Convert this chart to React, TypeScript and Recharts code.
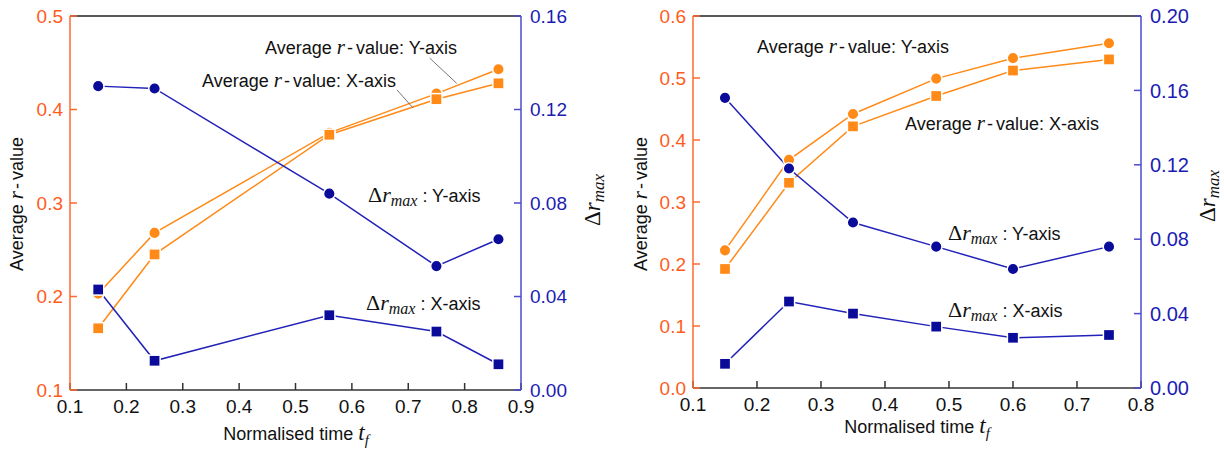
import React from "react";
import { LineChart, Line, XAxis, YAxis, ReferenceLine } from "recharts";

// left panel
const tLeft = [0.15, 0.25, 0.56, 0.75, 0.86];
const rYLeft = [0.203, 0.268, 0.375, 0.417, 0.443];
const rXLeft = [0.166, 0.245, 0.373, 0.411, 0.428];
const dYLeft = [0.13, 0.129, 0.084, 0.053, 0.0645];
const dXLeft = [0.043, 0.0125, 0.032, 0.025, 0.011];

// right panel
const tRight = [0.15, 0.25, 0.35, 0.48, 0.6, 0.75];
const rYRight = [0.222, 0.368, 0.442, 0.499, 0.532, 0.556];
const rXRight = [0.192, 0.331, 0.422, 0.471, 0.512, 0.53];
const dYRight = [0.156, 0.118, 0.089, 0.076, 0.064, 0.076];
const dXRight = [0.013, 0.0465, 0.04, 0.033, 0.027, 0.0285];

const xTicksLeft = [0.1, 0.2, 0.3, 0.4, 0.5, 0.6, 0.7, 0.8, 0.9];
const rTicksLeft = [0.1, 0.2, 0.3, 0.4, 0.5];
const dTicksLeft = [0, 0.04, 0.08, 0.12, 0.16];
const xTicksRight = [0.1, 0.2, 0.3, 0.4, 0.5, 0.6, 0.7, 0.8];
const rTicksRight = [0, 0.1, 0.2, 0.3, 0.4, 0.5, 0.6];
const dTicksRight = [0, 0.04, 0.08, 0.12, 0.16, 0.2];

// leader lines from the "Average r-value" notes to their curves (left panel)
const leaders = [
  [{ x: 0.738, y: 0.455 }, { x: 0.786, y: 0.428 }],
  [{ x: 0.68, y: 0.421 }, { x: 0.708, y: 0.402 }],
];

const ORANGE = "#FF8A17";
const ORANGE_AXIS = "#FF6A2E";
const ORANGE_TICK = "#FF5C1C";
const NAVY = "#0B0B9A";
const BLUE_LINE = "#2222B8";
const BLUE_AXIS = "#4B4BCF";
const BLUE_TICK = "#1C1CB4";
const FONT = "'Liberation Sans', Arial, sans-serif";
const MATH = "'Liberation Serif', 'Times New Roman', serif";

const circleDot = (color: string) => (p: any) => {
  if (p.cx == null || p.cy == null) return <g key={p.key} />;
  return <circle key={p.key} cx={p.cx} cy={p.cy} r={5.8} fill={color} stroke="#fff" strokeWidth={1.5} />;
};

const squareDot = (color: string) => (p: any) => {
  if (p.cx == null || p.cy == null) return <g key={p.key} />;
  return (
    <rect key={p.key} x={p.cx - 5.6} y={p.cy - 5.6} width={11.2} height={11.2} fill={color} stroke="#fff" strokeWidth={1.5} />
  );
};

function RNote({ x, y, axis }: { x: number; y: number; axis: string }) {
  return (
    <text x={x} y={y} fontFamily={FONT} fontSize={18} fill="#111">
      Average{" "}
      <tspan fontFamily={MATH} fontStyle="italic" fontSize={21}>r</tspan>
      <tspan dx={2}>-</tspan>
      <tspan dx={3}>value: {axis}</tspan>
    </text>
  );
}

function DNote({ x, y, axis }: { x: number; y: number; axis: string }) {
  return (
    <text x={x} y={y} fontFamily={FONT} fontSize={18} fill="#111">
      <tspan fontFamily={MATH} fontSize={22}>Δ</tspan>
      <tspan fontFamily={MATH} fontStyle="italic" fontSize={22}>r</tspan>
      <tspan fontFamily={MATH} fontStyle="italic" fontSize={16} dy={4}>max</tspan>
      <tspan dy={-4}> : {axis}</tspan>
    </text>
  );
}

function Titles({ yx, xc, xb, dx, dy }: { yx: number; xc: number; xb: number; dx: number; dy: number }) {
  return (
    <g>
      <text transform={`translate(${yx},204) rotate(-90)`} textAnchor="middle" fontFamily={FONT} fontSize={18} fill="#111">
        Average{" "}
        <tspan fontFamily={MATH} fontStyle="italic" fontSize={21}>r</tspan>
        <tspan dx={2}>-</tspan>
        <tspan dx={3}>value</tspan>
      </text>
      <text x={xc} y={xb} textAnchor="middle" fontFamily={FONT} fontSize={18} fill="#111">
        Normalised time{" "}
        <tspan fontFamily={MATH} fontStyle="italic" fontSize={23}>t</tspan>
        <tspan fontFamily={MATH} fontStyle="italic" fontSize={15} dy={5}>f</tspan>
      </text>
      <text transform={`translate(${dx},${dy}) rotate(-90)`} textAnchor="middle" fill="#111">
        <tspan fontFamily={MATH} fontSize={23}>Δ</tspan>
        <tspan fontFamily={MATH} fontStyle="italic" fontSize={23}>r</tspan>
        <tspan fontFamily={MATH} fontStyle="italic" fontSize={17} dy={4}>max</tspan>
      </text>
    </g>
  );
}

type PanelProps = {
  t: number[];
  rY: number[];
  rX: number[];
  dY: number[];
  dX: number[];
  xTicks: number[];
  rTicks: number[];
  dTicks: number[];
  leftW: number;
  rightW: number;
  bottomH: number;
  dFmt: (v: number) => string;
  rightTickSize: number;
  children?: React.ReactNode;
};

function Panel(p: PanelProps) {
  const data = p.t.map((t, i) => ({ t, rY: p.rY[i], rX: p.rX[i], dY: p.dY[i], dX: p.dX[i] }));
  const xMin = p.xTicks[0];
  const xMax = p.xTicks[p.xTicks.length - 1];
  const rMin = p.rTicks[0];
  const rMax = p.rTicks[p.rTicks.length - 1];
  const dMax = p.dTicks[p.dTicks.length - 1];
  return (
    <LineChart width={612} height={450} data={data} margin={{ top: 16, right: 0, left: 0, bottom: 0 }}>
      <XAxis
        dataKey="t"
        type="number"
        domain={[xMin, xMax]}
        ticks={p.xTicks}
        tickFormatter={(v: number) => v.toFixed(1)}
        height={p.bottomH}
        tickSize={-7}
        tickMargin={17}
        axisLine={{ stroke: "#333", strokeWidth: 1.5 }}
        tickLine={{ stroke: "#333", strokeWidth: 1.5 }}
        tick={{ fill: "#111", fontSize: 19, fontFamily: FONT }}
        allowDataOverflow
      />
      <YAxis
        yAxisId="r"
        orientation="left"
        type="number"
        domain={[rMin, rMax]}
        ticks={p.rTicks}
        tickFormatter={(v: number) => v.toFixed(1)}
        width={p.leftW}
        tickSize={-7}
        tickMargin={14}
        axisLine={{ stroke: ORANGE_AXIS, strokeWidth: 1.5 }}
        tickLine={{ stroke: ORANGE_AXIS, strokeWidth: 1.5 }}
        tick={{ fill: ORANGE_TICK, fontSize: 19, fontFamily: FONT }}
        allowDataOverflow
      />
      <YAxis
        yAxisId="d"
        orientation="right"
        type="number"
        domain={[0, dMax]}
        ticks={p.dTicks}
        tickFormatter={p.dFmt}
        width={p.rightW}
        tickSize={-7}
        tickMargin={16}
        axisLine={{ stroke: BLUE_AXIS, strokeWidth: 1.5 }}
        tickLine={{ stroke: BLUE_AXIS, strokeWidth: 1.5 }}
        tick={{ fill: BLUE_TICK, fontSize: p.rightTickSize, fontFamily: FONT }}
        allowDataOverflow
      />
      <ReferenceLine yAxisId="r" y={rMax} stroke="#222" strokeWidth={1.5} />
      <Line yAxisId="r" dataKey="rY" stroke={ORANGE} strokeWidth={1.5} dot={circleDot(ORANGE)} isAnimationActive={false} />
      <Line yAxisId="r" dataKey="rX" stroke={ORANGE} strokeWidth={1.5} dot={squareDot(ORANGE)} isAnimationActive={false} />
      <Line yAxisId="d" dataKey="dY" stroke={BLUE_LINE} strokeWidth={1.5} dot={circleDot(NAVY)} isAnimationActive={false} />
      <Line yAxisId="d" dataKey="dX" stroke={BLUE_LINE} strokeWidth={1.5} dot={squareDot(NAVY)} isAnimationActive={false} />
      {p.children}
    </LineChart>
  );
}

export default function App() {
  return (
    <div style={{ position: "absolute", left: 0, top: 0, width: 1224, height: 450, background: "#fff", display: "flex" }}>
      <Panel
        t={tLeft}
        rY={rYLeft}
        rX={rXLeft}
        dY={dYLeft}
        dX={dXLeft}
        xTicks={xTicksLeft}
        rTicks={rTicksLeft}
        dTicks={dTicksLeft}
        leftW={70}
        rightW={91}
        bottomH={60}
        dFmt={(v) => v.toFixed(2)}
        rightTickSize={19}
      >
        {leaders.map((seg, i) => (
          <ReferenceLine key={i} yAxisId="r" segment={seg} stroke="#555" strokeWidth={0.8} />
        ))}
        <RNote x={265} y={54} axis="Y-axis" />
        <RNote x={202} y={87} axis="X-axis" />
        <DNote x={368} y={202} axis="Y-axis" />
        <DNote x={366} y={310} axis="X-axis" />
        <Titles yx={23} xc={296} xb={440} dx={600} dy={200} />
      </Panel>
      <Panel
        t={tRight}
        rY={rYRight}
        rX={rXRight}
        dY={dYRight}
        dX={dXRight}
        xTicks={xTicksRight}
        rTicks={rTicksRight}
        dTicks={dTicksRight}
        leftW={81}
        rightW={83}
        bottomH={62}
        dFmt={(v) => v.toFixed(2)}
        rightTickSize={20}
      >
        <RNote x={145} y={53} axis="Y-axis" />
        <RNote x={293} y={130} axis="X-axis" />
        <DNote x={336} y={240} axis="Y-axis" />
        <DNote x={336} y={317} axis="X-axis" />
        <Titles yx={35} xc={305} xb={433} dx={603} dy={196} />
      </Panel>
    </div>
  );
}
